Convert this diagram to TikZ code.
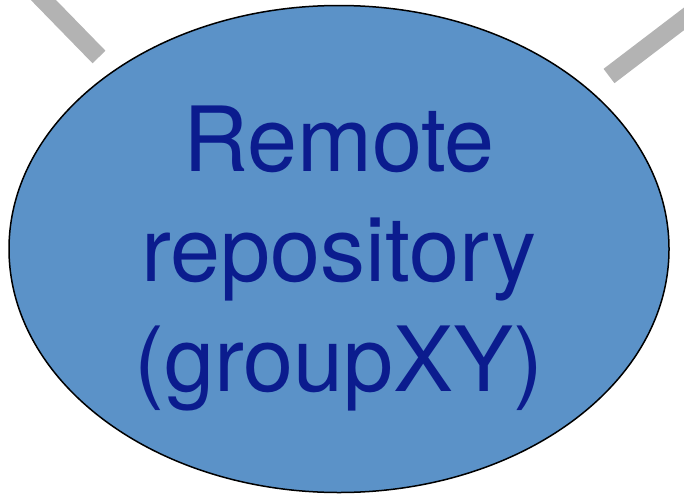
\documentclass[tikz,border=0pt]{standalone}
\usepackage{fontspec}
\setmainfont{TeX Gyre Heros}
\usetikzlibrary{shapes.geometric, calc}
\definecolor{repofill}{HTML}{5B92C8}
\definecolor{repotext}{HTML}{0B1C8E}
\definecolor{linkgray}{HTML}{B3B3B3}
\tikzset{
  repo/.style={
    draw=black,
    ellipse,
    fill=repofill,
    line width=0.75pt,
    minimum width=330pt,
    minimum height=243.5pt
  },
  repolbl/.style={
    align=center,
    inner sep=0pt,
    text=repotext,
    font=\fontsize{45pt}{55pt}\selectfont
  },
  link/.style={draw=linkgray, line width=9pt, line cap=butt}
}

\begin{document}
\begin{tikzpicture}[x=0.5pt, y=-0.5pt]

  \useasboundingbox (0,0) rectangle (684,503);

  \node[repo] (remote) at (339,249) {};
  \node[repolbl] (remotetext) at ($(remote.center)+(0,9)$) {Remote\\repository\\(groupXY)};

  % links to the other repositories (off picture)
  \coordinate (leftfar) at (20,-24);
  \coordinate (leftend) at (99,57);
  \coordinate (rightfar) at (714,-4);
  \coordinate (rightend) at (609,76);

  \draw[link] (leftfar) -- (leftend);
  \draw[link] (rightfar) -- (rightend);

\end{tikzpicture}
\end{document}
